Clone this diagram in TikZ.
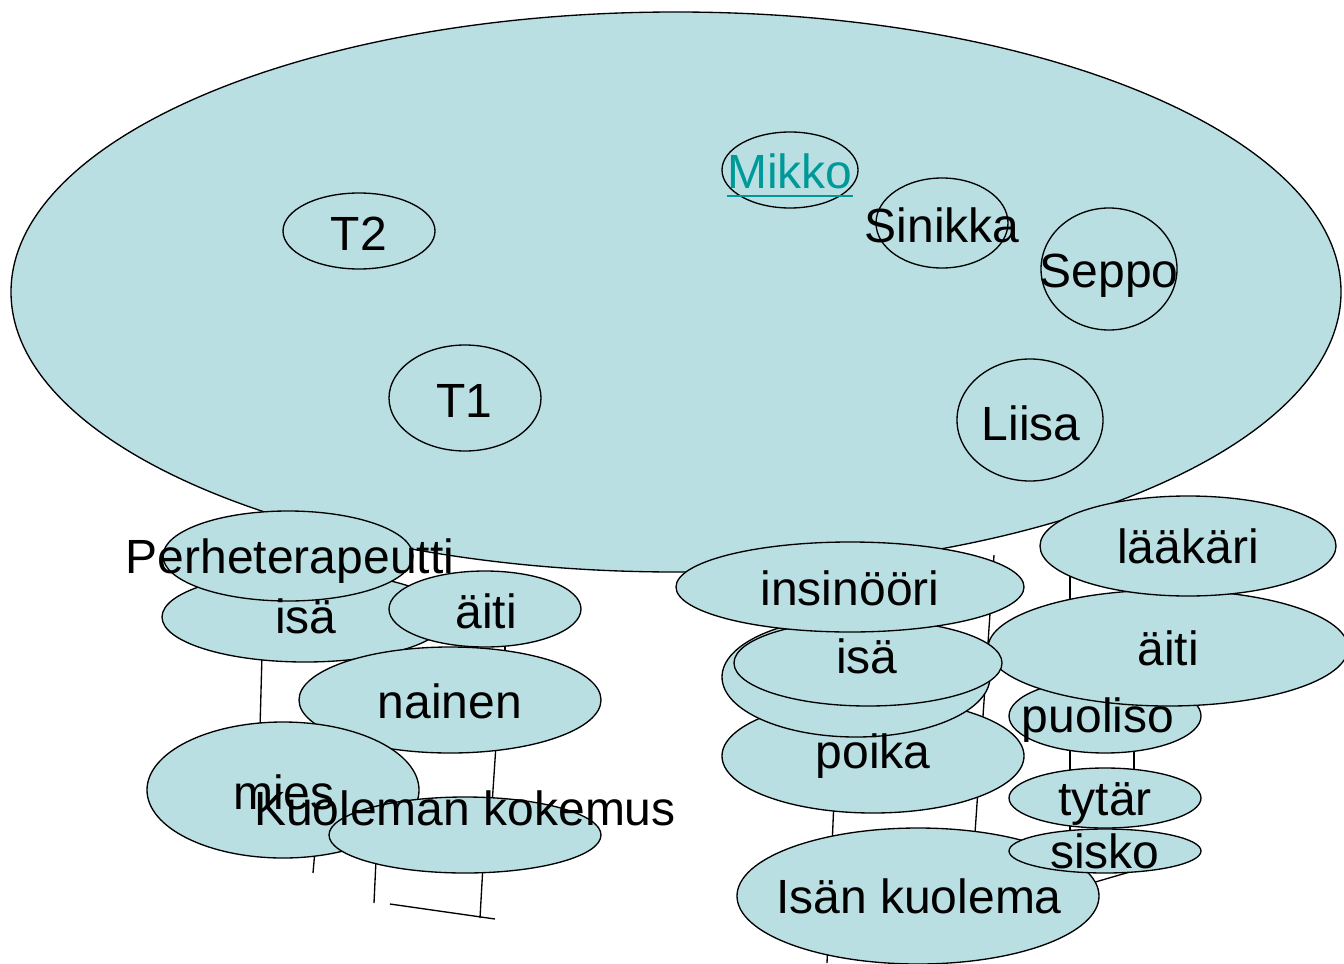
\documentclass[tikz,border=0pt]{standalone}
\usepackage{fontspec}
\setmainfont{Liberation Sans}
\usetikzlibrary{shapes.geometric}
\definecolor{bg}{RGB}{185,223,226}
\definecolor{linkc}{RGB}{0,153,153}
\tikzset{
  E/.style 2 args={ellipse, draw=black, line width=1pt, fill=bg, inner sep=0pt,
    minimum width={#1*1.5pt}, minimum height={#2*1.5pt}},
  T/.style={inner sep=0pt, anchor=base, font=\fontsize{36}{43}\selectfont, text=black},
  ln/.style={draw=black, line width=1pt}
}
\begin{document}
\begin{tikzpicture}[x=0.75pt, y=-0.75pt]
\useasboundingbox (0,0) rectangle (1344,963);
% connector fragments (behind the shapes)
\coordinate (a1) at (262,655); \coordinate (a2) at (260,728);
\coordinate (b1) at (496,745); \coordinate (b2) at (492,805);
\coordinate (c1) at (315,850); \coordinate (c2) at (313,873);
\coordinate (d1) at (376,860); \coordinate (d2) at (374,903);
\coordinate (e1) at (483,865); \coordinate (e2) at (480,918);
\coordinate (f1) at (390,904); \coordinate (f2) at (495,919);
\coordinate (g1) at (505,644); \coordinate (g2) at (505,652);
\coordinate (h1) at (994,555); \coordinate (h2) at (975,833);
\coordinate (i1) at (834,800); \coordinate (i2) at (827,963);
\coordinate (j1) at (1070,575); \coordinate (j2) at (1070,830);
\coordinate (k1) at (1134,745); \coordinate (k2) at (1134,770);
\coordinate (l1) at (1085,885); \coordinate (l2) at (1140,869);
\foreach \p/\q in {a1/a2,b1/b2,c1/c2,d1/d2,e1/e2,f1/f2,g1/g2,h1/h2,i1/i2,j1/j2,k1/k2,l1/l2}
  \draw[ln] (\p) -- (\q);
% big ellipse and its members
\node[E={665}{280}] (big) at (676,292) {};
\node[E={76}{38}] (t2) at (359,231) {};
\node[E={76}{53}] (t1) at (465,398) {};
\node[E={68}{38}] (mikko) at (790,170) {};
\node[E={66}{45}] (sinikka) at (942,223) {};
\node[E={68}{61}] (seppo) at (1109,269) {};
\node[E={73}{61}] (liisa) at (1030,420) {};
% left cluster
\node[E={143}{45}] (isaL) at (305,617) {};
\node[E={125}{45}] (perhe) at (288,556) {};
\node[E={96}{38}] (aitiL) at (485,609) {};
\node[E={151}{53}] (nainen) at (450,700) {};
\node[E={136}{68}] (mies) at (283,790) {};
\node[E={136}{38}] (kuol) at (465,835) {};
% right cluster
\node[E={151}{57}] (poika) at (873,756) {};
\node[E={96}{37}] (puoliso) at (1105,716) {};
\node[E={180}{58}] (aitiR) at (1168,648) {};
\node[E={148}{50}] (laakari) at (1188,546) {};
\node[E={134}{60}] (hidden) at (856,677) {};
\node[E={134}{43}] (isaR) at (868,663) {};
\node[E={174}{45}] (insin) at (850,587) {};
\node[E={96}{30}] (tytar) at (1105,798) {};
\node[E={181}{68}] (isan) at (918,896) {};
\node[E={96}{22}] (sisko) at (1105,851) {};
% texts
\node[T, text=linkc] (tMikko) at (790,188) {Mikko};
\draw[linkc, line width=2.2pt] ([yshift=-6pt]tMikko.base west) -- ([yshift=-6pt]tMikko.base east);
\node[T] (tSinikka) at (942,242) {Sinikka};
\node[T] (tSeppo) at (1109,287) {Seppo};
\node[T] (tT2) at (359,250) {T2};
\node[T] (tT1) at (464,417) {T1};
\node[T] (tLiisa) at (1031,440) {Liisa};
\node[T] (tPerhe) at (290,573) {Perheterapeutti};
\node[T] (tIsaL) at (306,633) {isä};
\node[T] (tAitiL) at (486,628) {äiti};
\node[T] (tNainen) at (450,718) {nainen};
\node[T] (tMies) at (284,809) {mies};
\node[T] (tKuol) at (465,825) {Kuoleman kokemus};
\node[T] (tInsin) at (850,605) {insinööri};
\node[T] (tIsaR) at (867,673) {isä};
\node[T] (tAitiR) at (1168,665) {äiti};
\node[T] (tLaakari) at (1188,563) {lääkäri};
\node[T] (tPuoliso) at (1098,732) {puoliso};
\node[T] (tPoika) at (873,768) {poika};
\node[T] (tTytar) at (1105,815) {tytär};
\node[T] (tSisko) at (1105,868) {sisko};
\node[T] (tIsan) at (919,913) {Isän kuolema};
\end{tikzpicture}
\end{document}
